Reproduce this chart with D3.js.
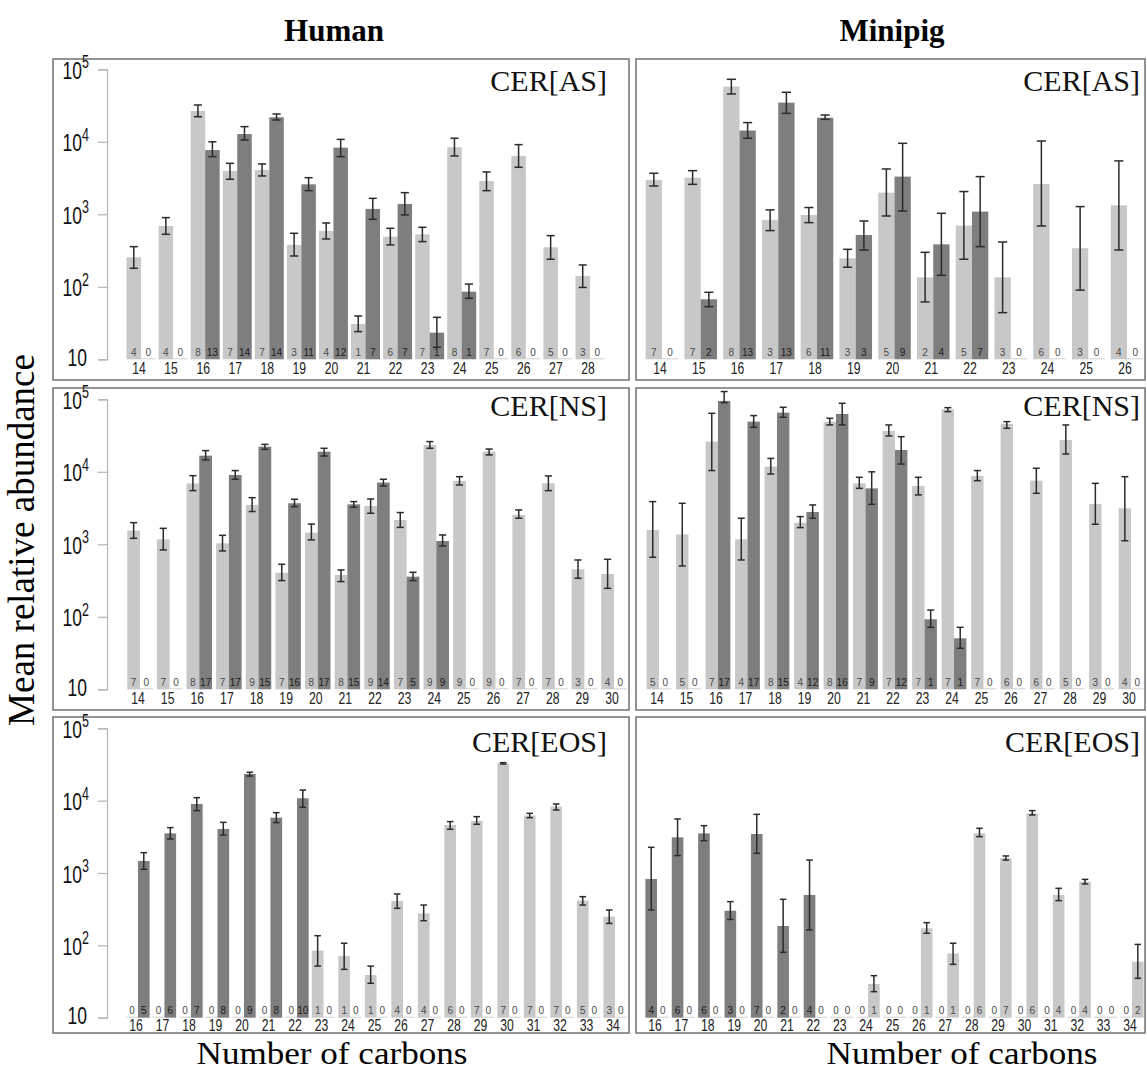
<!DOCTYPE html>
<html>
<head>
<meta charset="utf-8">
<script src="https://cdn.jsdelivr.net/npm/d3@7"></script>
<style>
  body { margin: 0; background: #fff; }
  svg { display: block; }
</style>
</head>
<body>
<script>
// CER[AS] - Human
const hAsCarbons = [14, 15, 16, 17, 18, 19, 20, 21, 22, 23, 24, 25, 26, 27, 28];
const hAsLight   = [255, 690, 26600, 3960, 4090, 378, 589, 30.7, 492, 530, 8400, 2880, 6380, 351, 141];
const hAsLightLo = [180, 530, 22200, 3040, 3380, 266, 457, 24.1, 378, 420, 6380, 2120, 4450, 240, 98];
const hAsLightHi = [358, 900, 32200, 5050, 4950, 547, 759, 39.6, 641, 662, 11200, 3840, 9140, 508, 200];
const hAsDark    = [null, null, 7700, 12800, 21800, 2590, 8320, 1186, 1390, 23.3, 85.7, null, null, null, null];
const hAsDarkLo  = [null, null, 6240, 10600, 20000, 2120, 6240, 853, 980, 14.7, 69.3, null, null, null, null];
const hAsDarkHi  = [null, null, 10000, 16200, 24200, 3200, 10800, 1660, 1990, 37.9, 109, null, null, null, null];
const hAsLightN  = [4, 4, 8, 7, 7, 3, 4, 1, 6, 7, 8, 7, 6, 5, 3];
const hAsDarkN   = [0, 0, 13, 14, 14, 11, 12, 7, 7, 1, 1, 0, 0, 0, 0];

// CER[AS] - Minipig
const mAsCarbons = [14, 15, 16, 17, 18, 19, 20, 21, 22, 23, 24, 25, 26];
const mAsLight   = [2980, 3200, 57700, 836, 980, 247, 1990, 135, 698, 135, 2620, 340, 1330];
const mAsLightLo = [2460, 2590, 45700, 596, 767, 186, 948, 61.8, 240, 44, 690, 90, 322];
const mAsLightHi = [3680, 4000, 72800, 1150, 1240, 329, 4220, 299, 2060, 415, 10260, 1277, 5450];
const mAsDark    = [null, 67.3, 14300, 34700, 21500, 519, 3310, 385, 1090, null, null, null, null];
const mAsDarkLo  = [null, 53.2, 11200, 24700, 20400, 322, 1110, 144, 358, null, null, null, null];
const mAsDarkHi  = [null, 84, 18400, 48200, 23400, 809, 9530, 1032, 3310, null, null, null, null];
const mAsLightN  = [7, 7, 8, 3, 6, 3, 5, 2, 5, 3, 6, 3, 4];
const mAsDarkN   = [0, 2, 13, 13, 11, 3, 9, 4, 7, 0, 0, 0, 0];

// CER[NS] - Human
const hNsCarbons = [14, 15, 16, 17, 18, 19, 20, 21, 22, 23, 24, 25, 26, 27, 28, 29, 30];
const hNsLight   = [1545, 1172, 6930, 1032, 3490, 406, 1450, 378, 3380, 2170, 23400, 7480, 18950, 2540, 6930, 452, 390];
const hNsLightLo = [1210, 836, 5500, 809, 2830, 316, 1150, 306, 2680, 1710, 21100, 6580, 17100, 2290, 5500, 340, 247];
const hNsLightHi = [1990, 1660, 8850, 1330, 4400, 530, 1900, 443, 4220, 2740, 26100, 8570, 20600, 2980, 8770, 608, 621];
const hNsDark    = [null, null, 16700, 9040, 22200, 3680, 18950, 3560, 7100, 358, 1110, null, null, null, null, null, null];
const hNsDarkLo  = [null, null, 14600, 7890, 20400, 3310, 16500, 3240, 6380, 316, 948, null, null, null, null, null, null];
const hNsDarkHi  = [null, null, 19600, 10400, 23900, 4180, 21100, 3880, 7890, 411, 1345, null, null, null, null, null, null];
const hNsLightN  = [7, 7, 8, 7, 9, 7, 8, 8, 9, 7, 9, 9, 9, 7, 7, 3, 4];
const hNsDarkN   = [0, 0, 17, 17, 15, 16, 17, 15, 14, 5, 9, 0, 0, 0, 0, 0, 0];

// CER[NS] - Minipig
const mNsCarbons = [14, 15, 16, 17, 18, 19, 20, 21, 22, 23, 24, 25, 26, 27, 28, 29, 30];
const mNsLight   = [1580, 1370, 26100, 1172, 11800, 1990, 49200, 6930, 36600, 6380, 72800, 8770, 45700, 7550, 27500, 3600, 3140];
const mNsLightLo = [662, 502, 10400, 608, 9330, 1700, 44300, 5910, 31200, 4800, 67600, 7550, 39800, 5050, 17600, 1890, 1120];
const mNsLightHi = [3880, 3680, 64100, 2290, 15300, 2410, 54700, 8400, 44300, 8400, 76700, 10400, 49200, 11200, 44300, 6930, 8570];
const mNsDark    = [null, null, 95000, 49200, 65500, 2790, 62800, 5910, 20000, 92.5, 50.5, null, null, null, null, null, null];
const mNsDarkLo  = [null, null, 90000, 41100, 56500, 2290, 44300, 3560, 12800, 71.6, 36.8, null, null, null, null, null, null];
const mNsDarkHi  = [null, null, 128000, 59600, 77600, 3490, 88100, 10000, 30500, 124, 71.6, null, null, null, null, null, null];
const mNsLightN  = [5, 5, 7, 4, 8, 4, 8, 7, 7, 7, 7, 7, 6, 6, 5, 3, 4];
const mNsDarkN   = [0, 0, 17, 17, 15, 12, 16, 9, 12, 1, 1, 0, 0, 0, 0, 0, 0];

// CER[EOS] - Human
const hEosCarbons = [16, 17, 18, 19, 20, 21, 22, 23, 24, 25, 26, 27, 28, 29, 30, 31, 32, 33, 34];
const hEosLight   = [null, null, null, null, null, null, null, 84.4, 71.3, 38.9, 410, 277, 4610, 5240, 32800, 6210, 8270, 415, 249];
const hEosLightLo = [null, null, null, null, null, null, null, 51.7, 46.6, 29.9, 325, 219, 4020, 4710, 32100, 5820, 7430, 361, 201];
const hEosLightHi = [null, null, null, null, null, null, null, 136, 107, 51.7, 513, 361, 5130, 6010, 33500, 6680, 8990, 471, 308];
const hEosDark    = [1466, 3530, 8990, 4060, 23400, 5820, 10800, null, null, null, null, null, null, null, null, null, null, null, null];
const hEosDarkLo  = [1125, 2950, 7280, 3350, 21900, 4970, 8090, null, null, null, null, null, null, null, null, null, null, null, null];
const hEosDarkHi  = [1910, 4240, 11000, 5010, 24700, 6830, 14000, null, null, null, null, null, null, null, null, null, null, null, null];
const hEosLightN  = [0, 0, 0, 0, 0, 0, 0, 1, 1, 1, 4, 4, 6, 7, 7, 7, 7, 5, 3];
const hEosDarkN   = [5, 6, 7, 8, 9, 8, 10, 0, 0, 0, 0, 0, 0, 0, 0, 0, 0, 0, 0];

// CER[EOS] - Minipig (dark bar drawn first here)
const mEosCarbons = [16, 17, 18, 19, 20, 21, 22, 23, 24, 25, 26, 27, 28, 29, 30, 31, 32, 33, 34];
const mEosDark    = [826, 3110, 3530, 301, 3460, 185, 497, null, null, null, null, null, null, null, null, null, null, null, null];
const mEosDarkLo  = [308, 1740, 2800, 228, 1870, 80, 163, null, null, null, null, null, null, null, null, null, null, null, null];
const mEosDarkHi  = [2265, 5580, 4510, 402, 6470, 433, 1510, null, null, null, null, null, null, null, null, null, null, null, null];
const mEosLight   = [null, null, null, null, null, null, null, null, 29.2, null, 172, 77.5, 3530, 1600, 6680, 497, 759, null, 59.4];
const mEosLightLo = [null, null, null, null, null, null, null, null, 22.9, null, 147, 54.6, 3180, 1510, 6340, 415, 705, null, 35];
const mEosLightHi = [null, null, null, null, null, null, null, null, 38.1, null, 206, 107, 4150, 1720, 7280, 614, 817, null, 103];
const mEosDarkN   = [4, 6, 6, 3, 7, 2, 4, 0, 0, 0, 0, 0, 0, 0, 0, 0, 0, 0, 0];
const mEosLightN  = [0, 0, 0, 0, 0, 0, 0, 0, 1, 0, 1, 1, 6, 7, 6, 4, 4, 0, 2];

const yTicks = [10, 100, 1000, 10000, 100000];

const LIGHT = '#c8c8c8', DARK = '#7e7e7e';

const svg = d3.select('body').append('svg')
    .attr('width', 1147)
    .attr('height', 1071)
    .style('font-family', '"Liberation Sans", Arial, sans-serif');

// rows: frame top/bottom and log scale range
const rows = [
    { top: 59, bottom: 380, y0: 359.3, y1: 69.3, labelY: 91, tickDy: 14.5 },
    { top: 388, bottom: 710, y0: 689.3, y1: 399.3, labelY: 416, tickDy: 14.5 },
    { top: 717, bottom: 1033, y0: 1017.7, y1: 728.3, labelY: 752, tickDy: 13 }
];
const cols = [
    { left: 53, right: 629, labelX: 607, axis: true },
    { left: 636, right: 1145, labelX: 1140, axis: false }
];

function series(mean, lo, hi, n, color) {
    return { mean: mean, lo: lo, hi: hi, n: n, color: color };
}

const panels = [
    { row: 0, col: 0, label: 'CER[AS]', carbons: hAsCarbons, xr: [125, 606], bar: 0.452,
      series: [series(hAsLight, hAsLightLo, hAsLightHi, hAsLightN, LIGHT), series(hAsDark, hAsDarkLo, hAsDarkHi, hAsDarkN, DARK)] },
    { row: 0, col: 1, label: 'CER[AS]', carbons: mAsCarbons, xr: [642.6, 1146.4], bar: 0.42,
      series: [series(mAsLight, mAsLightLo, mAsLightHi, mAsLightN, LIGHT), series(mAsDark, mAsDarkLo, mAsDarkHi, mAsDarkN, DARK)] },
    { row: 1, col: 0, label: 'CER[NS]', carbons: hNsCarbons, xr: [125.2, 628.8], bar: 0.43,
      series: [series(hNsLight, hNsLightLo, hNsLightHi, hNsLightN, LIGHT), series(hNsDark, hNsDarkLo, hNsDarkHi, hNsDarkN, DARK)] },
    { row: 1, col: 1, label: 'CER[NS]', carbons: mNsCarbons, xr: [644.2, 1145.8], bar: 0.42,
      series: [series(mNsLight, mNsLightLo, mNsLightHi, mNsLightN, LIGHT), series(mNsDark, mNsDarkLo, mNsDarkHi, mNsDarkN, DARK)] },
    { row: 2, col: 0, label: 'CER[EOS]', carbons: hEosCarbons, xr: [124.7, 628.3], bar: 0.44,
      series: [series(hEosLight, hEosLightLo, hEosLightHi, hEosLightN, LIGHT), series(hEosDark, hEosDarkLo, hEosDarkHi, hEosDarkN, DARK)] },
    { row: 2, col: 1, label: 'CER[EOS]', carbons: mEosCarbons, xr: [643.8, 1145.2], bar: 0.44,
      series: [series(mEosDark, mEosDarkLo, mEosDarkHi, mEosDarkN, DARK), series(mEosLight, mEosLightLo, mEosLightHi, mEosLightN, LIGHT)] }
];

// text stretched vertically like the original raster
function sText(g, x, y, str, size, sy, anchor, color) {
    return g.append('text')
        .attr('transform', 'translate(' + x + ',' + y + ') scale(1,' + sy + ')')
        .attr('text-anchor', anchor)
        .attr('font-size', size)
        .attr('fill', color)
        .text(str);
}

function drawPanel(p) {
    const r = rows[p.row], c = cols[p.col];
    const g = svg.append('g');

    g.append('rect')
        .attr('x', c.left).attr('y', r.top)
        .attr('width', c.right - c.left).attr('height', r.bottom - r.top)
        .attr('fill', 'none').attr('stroke', '#7a7a7a').attr('stroke-width', 1.6);

    const y = d3.scaleLog().domain([10, 100000]).range([r.y0, r.y1]);
    const x = d3.scaleBand().domain(p.carbons).range(p.xr).padding(0);
    const bw = x.bandwidth() * p.bar;

    if (c.axis) {
        const ax = g.append('g')
            .attr('transform', 'translate(107,0)')
            .call(d3.axisLeft(y).tickValues(yTicks).tickSize(9).tickFormat(''));
        ax.select('.domain').attr('stroke', '#b5b5b5').attr('stroke-width', 1.2);
        ax.selectAll('.tick line').attr('stroke', '#b5b5b5').attr('stroke-width', 1.2);

        yTicks.forEach(function (v) {
            const e = Math.round(Math.log10(v));
            const t = sText(g, 87, y(v) + 6.5, '10', 17.5, 1.4, 'end', '#111');
            if (e > 1) {
                t.attr('transform', 'translate(89,' + (y(v) + 9.5) + ') scale(1,1.4)');
                t.append('tspan').attr('dy', -7.5).attr('font-size', 12.5).text(e);
            }
        });
    }

    p.carbons.forEach(function (cb, i) {
        const mid = x(cb) + x.bandwidth() / 2;
        p.series.forEach(function (s, k) {
            const bx = k === 0 ? mid - bw : mid;
            const v = s.mean[i];
            if (v != null) {
                g.append('rect')
                    .attr('x', bx).attr('y', y(v))
                    .attr('width', bw).attr('height', y(10) - y(v))
                    .attr('fill', s.color);
                const ex = bx + bw / 2, cap = bw * 0.28;
                const eg = g.append('g').attr('stroke', '#2b2b2b').attr('stroke-width', 1.5);
                eg.append('line').attr('x1', ex).attr('x2', ex).attr('y1', y(s.lo[i])).attr('y2', y(s.hi[i]));
                eg.append('line').attr('x1', ex - cap).attr('x2', ex + cap).attr('y1', y(s.lo[i])).attr('y2', y(s.lo[i]));
                eg.append('line').attr('x1', ex - cap).attr('x2', ex + cap).attr('y1', y(s.hi[i])).attr('y2', y(s.hi[i]));
            } else {
                g.append('line')
                    .attr('x1', bx).attr('x2', bx + bw)
                    .attr('y1', y(10) - 0.5).attr('y2', y(10) - 0.5)
                    .attr('stroke', '#d0d0d0').attr('stroke-width', 1);
            }
            sText(g, bx + bw / 2, y(10) - 3.5, s.n[i], 10, 1.05, 'middle', s.color === DARK && v != null ? '#1a1a1a' : '#4a4a4a');
        });
        sText(g, mid - 2, y(10) + r.tickDy, cb, 12.2, 1.3, 'middle', '#222');
    });

    g.append('text')
        .attr('x', c.labelX).attr('y', r.labelY)
        .attr('text-anchor', 'end')
        .attr('font-family', '"Liberation Serif", "Times New Roman", serif')
        .attr('font-size', 30)
        .attr('fill', '#111')
        .text(p.label);
}

panels.forEach(drawPanel);

// titles
const serif = '"Liberation Serif", "Times New Roman", serif';
svg.append('text').attr('x', 334).attr('y', 41).attr('text-anchor', 'middle')
    .attr('font-family', serif).attr('font-weight', 'bold').attr('font-size', 31).text('Human');
svg.append('text').attr('x', 892).attr('y', 41).attr('text-anchor', 'middle')
    .attr('font-family', serif).attr('font-weight', 'bold').attr('font-size', 31).text('Minipig');

svg.append('text').attr('transform', 'translate(34,540) rotate(-90)').attr('text-anchor', 'middle')
    .attr('font-family', serif).attr('font-size', 37).text('Mean relative abundance');

[332, 962].forEach(function (cx) {
    svg.append('text').attr('transform', 'translate(' + cx + ',1063.8) scale(1.08,1)').attr('text-anchor', 'middle')
        .attr('font-family', serif).attr('font-size', 32.5).text('Number of carbons');
});
</script>
</body>
</html>
